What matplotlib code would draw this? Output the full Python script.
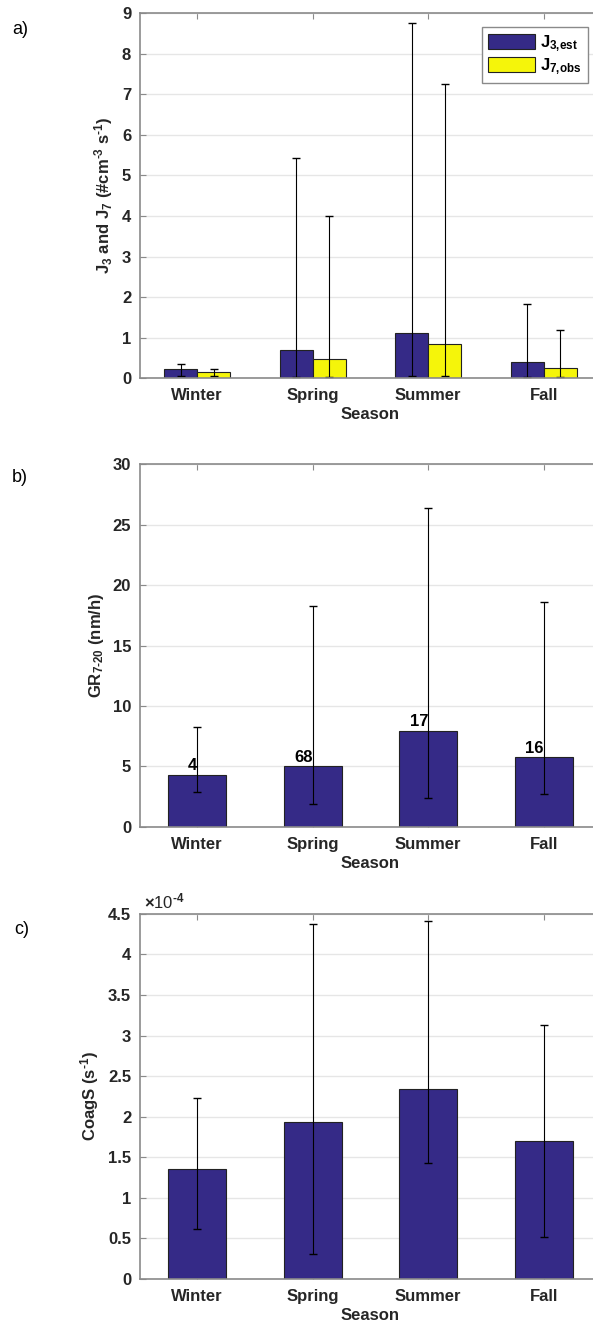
import numpy as np
import matplotlib
matplotlib.use("Agg")
import matplotlib.pyplot as plt
from matplotlib.ticker import FuncFormatter


plt.rcParams['font.family'] = ['Liberation Sans', 'DejaVu Sans']
plt.rcParams['mathtext.fontset'] = 'custom'
plt.rcParams['mathtext.rm'] = 'Liberation Sans:bold'
plt.rcParams['mathtext.it'] = 'Liberation Sans:bold'
plt.rcParams['mathtext.bf'] = 'Liberation Sans:bold'
plt.rcParams['mathtext.default'] = 'rm'
plt.rcParams['axes.unicode_minus'] = False

seasons = ['Winter', 'Spring', 'Summer', 'Fall']

# a) formation rates
j3_mean = np.array([0.22, 0.70, 1.10, 0.40])
j3_low = np.array([0.05, 0.03, 0.06, 0.03])
j3_high = np.array([0.35, 5.42, 8.77, 1.84])
j7_mean = np.array([0.16, 0.48, 0.84, 0.26])
j7_low = np.array([0.04, 0.02, 0.04, 0.02])
j7_high = np.array([0.23, 4.01, 7.25, 1.19])

# b) growth rates and number of events
gr_mean = np.array([4.3, 5.0, 7.95, 5.75])
gr_low = np.array([2.9, 1.9, 2.4, 2.7])
gr_high = np.array([8.3, 18.3, 26.4, 18.6])
gr_count = ['4', '68', '17', '16']

# c) coagulation sink
cs_mean = np.array([1.36, 1.93, 2.34, 1.70]) * 1e-4
cs_low = np.array([0.61, 0.31, 1.43, 0.52]) * 1e-4
cs_high = np.array([2.23, 4.38, 4.41, 3.13]) * 1e-4

blue = '#352a87'
yellow = '#f5f50a'
edge = '#222222'
spine_col = '#8a8a8a'
text_col = '#262626'
fs = 12

x = np.arange(1, len(seasons) + 1)


def style_axes(ax, ymax, ystep):
    ax.set_xlim(0.5, 4.5)
    ax.set_ylim(0, ymax)
    ax.set_yticks(np.arange(0, ymax + ystep / 2, ystep))
    ax.set_xticks(x)
    ax.set_xticklabels(seasons, fontsize=fs, fontweight='bold', color=text_col)
    ax.tick_params(axis='both', direction='in', length=4, width=0.8,
                   top=True, right=True, colors=spine_col,
                   labelcolor=text_col, labelsize=fs)
    ax.tick_params(axis='x', pad=7)
    ax.tick_params(axis='y', pad=6)
    for lab in ax.get_yticklabels():
        lab.set_fontweight('bold')
    for sp in ax.spines.values():
        sp.set_color(spine_col)
        sp.set_linewidth(1.2)
    ax.yaxis.grid(True, color='#e6e6e6', linewidth=1.0)
    ax.set_axisbelow(True)
    ax.set_xlabel('Season', fontsize=fs, fontweight='bold', color=text_col,
                  labelpad=3)


fig = plt.figure(figsize=(5.93, 13.27), dpi=100)
left = 139.5 / 593
width = 462 / 593
ax1 = fig.add_axes([left, 0.7151, width, 0.2748])
ax2 = fig.add_axes([left, 0.3768, width, 0.2735])
ax3 = fig.add_axes([left, 0.0362, width, 0.2751])

# panel a
w = 0.286
ax1.bar(x - w / 2, j3_mean, w, color=blue, edgecolor=edge, linewidth=0.8,
        label='J$_{\\text{3,est}}$')
ax1.bar(x + w / 2, j7_mean, w, color=yellow, edgecolor=edge, linewidth=0.8,
        label='J$_{\\text{7,obs}}$')
ax1.errorbar(x - w / 2, j3_mean, yerr=[j3_mean - j3_low, j3_high - j3_mean],
             fmt='none', ecolor='black', elinewidth=0.8, capsize=3)
ax1.errorbar(x + w / 2, j7_mean, yerr=[j7_mean - j7_low, j7_high - j7_mean],
             fmt='none', ecolor='black', elinewidth=0.8, capsize=3)
style_axes(ax1, 9, 1)
ax1.set_ylabel('J$_3$ and J$_7$ (#cm$^{\\text{-3}}$ s$^{\\text{-1}}$)',
               fontsize=fs, fontweight='bold', color=text_col, labelpad=5)
leg = ax1.legend(loc='upper right', prop={'size': fs, 'weight': 'bold'},
                 handlelength=2.8, handleheight=1.0, borderaxespad=0,
                 fancybox=False, framealpha=1, handletextpad=0.35,
                 labelspacing=0.15, borderpad=0.35,
                 bbox_to_anchor=(0.97, 0.962))
leg.get_frame().set_edgecolor(spine_col)
leg.get_frame().set_linewidth(1.0)

# panel b
ax2.bar(x, gr_mean, 0.5, color=blue, edgecolor=edge, linewidth=0.8)
ax2.errorbar(x, gr_mean, yerr=[gr_mean - gr_low, gr_high - gr_mean],
             fmt='none', ecolor='black', elinewidth=0.8, capsize=3)
for xi, yi, n in zip(x, gr_mean, gr_count):
    ax2.text(xi, yi + 0.15, n, ha='right', va='bottom', fontsize=fs,
             fontweight='bold', color='black')
style_axes(ax2, 30, 5)
ax2.set_ylabel('GR$_{\\text{7-20}}$ (nm/h)', fontsize=fs, fontweight='bold',
               color=text_col, labelpad=5)

# panel c
ax3.bar(x, cs_mean, 0.5, color=blue, edgecolor=edge, linewidth=0.8)
ax3.errorbar(x, cs_mean, yerr=[cs_mean - cs_low, cs_high - cs_mean],
             fmt='none', ecolor='black', elinewidth=0.8, capsize=3)
style_axes(ax3, 4.5e-4, 0.5e-4)
ax3.yaxis.set_major_formatter(FuncFormatter(lambda v, p: f'{v * 1e4:g}'))
for lab in ax3.get_yticklabels():
    lab.set_fontweight('bold')
ax3.text(0.01, 1.008, '$\\times$10$^{\\text{-4}}$', transform=ax3.transAxes,
         fontsize=fs, color=text_col, ha='left', va='bottom')
ax3.set_ylabel('CoagS (s$^{\\text{-1}}$)', fontsize=fs, fontweight='bold',
               color=text_col, labelpad=5)

# panel letters
fig.text(12 / 593, 1 - 30 / 1327, 'a)', fontsize=13, va='center')
fig.text(12 / 593, 1 - 477 / 1327, 'b)', fontsize=13, va='center')
fig.text(14 / 593, 1 - 930 / 1327, 'c)', fontsize=13, va='center')

fig.savefig('out.png', dpi=100)
